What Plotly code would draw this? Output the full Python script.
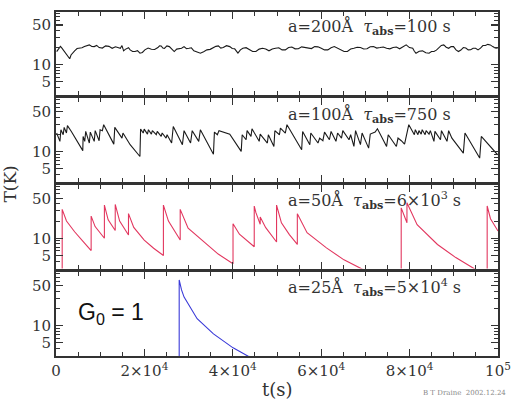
import plotly.graph_objects as go

# ---------------- data ----------------
# Panel 1: a=200 Å  (main readings + in-between readings of the fine jitter)
t1 = [148, 739, 1256, 1995, 2734, 3104, 3695, 4212, 5321, 6429, 7538, 8646, 9755,
      11233, 12711, 14189, 14928, 15298, 16036, 16775, 17884, 18992, 20101, 21579,
      23057, 23796, 24535, 25643, 26752, 27860, 28969, 30077, 31186, 32664, 34142,
      35620, 36728, 37837, 39315, 40423, 41162, 42271, 43749, 45227, 46711, 48189,
      49667, 51145, 52623, 54101, 55579, 57057, 58535, 60013, 61491, 62969, 64447,
      65925, 67403, 68881, 70359, 71837, 73315, 74793, 76271, 77749, 79227, 80705,
      81444, 82922, 84400, 85509, 86617, 87726, 88834, 89942, 91051, 92159, 93268,
      94376, 95485, 96593, 97702, 98810, 99919]
T1 = [17.0, 19.4, 20.0, 17.0, 13.9, 12.7, 15.9, 17.5, 19.4, 20.8, 22.3, 20.8, 20.0,
      21.4, 19.4, 20.0, 21.7, 17.5, 19.4, 18.2, 17.0, 15.9, 18.2, 18.7,
      20.0, 21.4, 19.4, 20.8, 17.0, 19.4, 20.8, 19.4, 17.5, 15.9, 18.2,
      20.0, 21.4, 20.0, 20.8, 19.0, 15.9, 19.4, 18.2, 17.0, 19.4, 17.5,
      19.4, 18.2, 20.0, 19.0, 20.6, 19.4, 20.8, 19.4, 18.2, 20.8, 18.2,
      17.0, 19.4, 20.0, 19.0, 20.8, 20.0, 19.4, 20.0, 19.0, 22.3, 19.4,
      15.9, 17.5, 15.9, 17.0, 20.0, 22.3, 19.4, 20.8, 17.0, 20.0, 18.2,
      19.4, 18.2, 21.7, 22.8, 20.8, 19.4]
t1_mid = [444, 998, 1626, 2365, 2919, 3400, 3954, 4767, 5875, 6984, 8092, 9200, 10494,
          11972, 13450, 14559, 15113, 15667, 16405, 17330, 18438, 19547, 20840, 22318,
          23427, 24166, 25089, 26198, 27306, 28415, 29523, 30632, 31925, 33403, 34881,
          36174, 37283, 38576, 39869, 40793, 41717, 43010, 44488, 45969, 47450, 48928,
          50406, 51884, 53362, 54840, 56318, 57796, 59274, 60752, 62230, 63708, 65186,
          66664, 68142, 69620, 71098, 72576, 74054, 75532, 77010, 78488, 79966, 81075,
          82183, 83661, 84955, 86063, 87172, 88280, 89388, 90497, 91605, 92714, 93822,
          94931, 96039, 97148, 98256, 99365]
T1_mid = [18.6, 21.0, 18.2, 15.0, 13.6, 14.8, 17.2, 19.2, 19.8, 21.9, 20.9, 21.8, 19.6,
          21.0, 20.6, 19.4, 19.8, 18.6, 19.9, 17.0, 17.6, 16.4, 19.6, 18.5,
          21.5, 19.6, 21.4, 18.6, 18.8, 19.4, 19.1, 19.8, 16.6, 16.9, 18.6,
          21.0, 19.6, 21.6, 19.3, 17.6, 18.2, 19.9, 17.0, 18.8, 18.9, 18.9,
          19.8, 18.2, 20.5, 19.1, 20.3, 19.2, 20.6, 18.2, 19.9, 19.3, 17.0,
          18.8, 20.3, 18.9, 20.7, 19.6, 20.5, 19.0, 20.4, 20.3, 20.0, 17.2,
          17.2, 16.2, 17.0, 18.0, 21.8, 20.3, 20.8, 18.2, 18.1, 19.6, 18.3,
          19.4, 19.5, 21.8, 22.3, 19.7]

# Panel 2: a=100 Å
t2 = [148, 887, 1108, 1626, 1848, 2365, 2587, 3473, 6060, 6134, 6503, 6725, 7538, 7760,
      8646, 8868, 9755, 9977, 10494, 10790, 13080, 13302, 14928, 15150, 16775, 18992,
      19140, 19731, 19953, 20692, 20914, 21580, 21800, 22687, 22909, 23796, 24018,
      24904, 25126, 26161, 26530, 27861, 28600, 28970, 30447, 30817, 32295, 32664,
      35620, 35842, 36507, 36877, 39315, 41901, 42123, 43010, 43232, 44118, 44340,
      45972, 46194, 47820, 48041, 49298, 49519, 50554, 50775, 51884, 52254, 55579,
      55801, 57427, 57648, 59274, 59644, 60383, 60752, 61861, 62230, 63339, 63708,
      64595, 64889, 66295, 66664, 67403, 67773, 68881, 69251, 70729, 71098, 72207,
      72724, 74793, 75163, 77010, 77380, 78119, 78857, 79818, 81074, 81296, 81887,
      82109, 82626, 82848, 83513, 83735, 84400, 84695, 85508, 85730, 86986, 87208,
      88464, 88834, 89573, 92159, 92529, 95854, 96224, 99919]
T2 = [21.1, 15.1, 24.1, 19.7, 26.5, 21.1, 28.4, 22.5, 10.4, 18.4, 15.1, 22.5, 14.1, 21.9,
      15.1, 23.2, 15.5, 24.1, 23.2, 29.5, 13.5, 26.5, 17.2, 21.1, 13.2, 8.2,
      24.7, 21.1, 24.7, 20.2, 24.1, 20.2, 23.2, 19.7, 22.5, 18.4, 21.1,
      17.2, 19.7, 14.1, 27.5, 17.2, 13.2, 23.2, 14.1, 23.2, 15.1, 24.1,
      9.0, 21.9, 19.7, 23.2, 20.2, 10.1, 19.7, 16.1, 23.2, 18.4, 25.1,
      15.1, 20.2, 14.1, 19.7, 12.3, 23.2, 19.7, 25.8, 21.1, 29.5, 10.8,
      22.5, 13.2, 21.1, 14.1, 17.2, 15.5, 21.9, 16.1, 22.5, 15.1, 21.1,
      17.2, 23.2, 16.1, 19.7, 12.3, 23.2, 13.2, 21.1, 11.5, 20.2, 21.9,
      25.1, 12.3, 19.7, 12.3, 17.2, 15.5, 13.5, 29.5, 19.7, 24.1, 19.7,
      23.2, 20.2, 24.1, 19.7, 23.2, 20.2, 23.2, 15.1, 22.5, 16.1, 23.2,
      15.1, 23.2, 17.2, 9.4, 21.1, 7.7, 18.4, 8.8]

# Panel 3: a=50 Å
t3 = [1400, 1400, 2370, 4210, 6060, 7950,
      7950, 8850, 10950,
      10950, 11800, 13400,
      13400, 14400, 16400,
      16400, 17590, 19960, 22090, 24300,
      24300, 25440, 28100,
      28100, 29890, 33480, 36700, 40050,
      40050, 41500, 44850,
      44850, 45230, 46200,
      46200, 47450, 49900,
      49900, 51000, 52800, 54600,
      54600, 56800, 61190, 65150, 69250, 78100,
      78100, 79400,
      79400, 81700, 86310, 90450, 94750, 97550,
      97550, 98300, 100000]
T3 = [1.5, 32, 20, 13, 8.9, 6.1,
      24.4, 16.0, 10.0,
      38, 21, 13.7,
      39, 20, 11.4,
      27, 15.5, 9.3, 6.7, 5.0,
      38, 20, 9.3,
      32, 15, 8.5, 5.3, 3.6,
      18, 11.8, 7.1,
      36.6, 28, 17.5,
      23.5, 15.3, 8.6,
      38, 18.6, 11.6, 7.8,
      26.8, 12.5, 6.8, 4.2, 2.9, 1.8,
      34, 18.7,
      41.8, 17.3, 7.8, 4.6, 2.9, 2.4,
      36.6, 22, 13.4]

# Panel 4: a=25 Å
t4 = [27870, 27870, 28400, 28980, 31930, 35630, 40060, 43390, 60000]
T4 = [1.5, 63, 42, 31.5, 13.2, 7.2, 4.1, 2.95, 1.2]

# merge panel-1 readings in time order
_p1 = sorted(zip(t1 + t1_mid, T1 + T1_mid))
t1_all = [p[0] for p in _p1]
T1_all = [p[1] for p in _p1]

series_t = [t1_all, t2, t3, t4]
series_T = [T1_all, T2, T3, T4]
colors = ["#1a1a1a", "#1a1a1a", "#e2375f", "#3a3ad8"]

labels = [
    "a=200Å&nbsp;&nbsp;<i>τ</i><sub><b>abs</b></sub>=100 s",
    "a=100Å&nbsp;&nbsp;<i>τ</i><sub><b>abs</b></sub>=750 s",
    "a=50Å&nbsp;&nbsp;<i>τ</i><sub><b>abs</b></sub>=6×10<sup>3</sup> s",
    "a=25Å&nbsp;&nbsp;<i>τ</i><sub><b>abs</b></sub>=5×10<sup>4</sup> s",
]

x_tickvals = [0, 20000, 40000, 60000, 80000, 100000]
x_ticktext = ["0", "2×10<sup>4</sup>", "4×10<sup>4</sup>", "6×10<sup>4</sup>",
              "8×10<sup>4</sup>", "10<sup>5</sup>"]
x_minor = [v for v in range(5000, 100000, 5000) if v % 20000 != 0]
y_tickvals = [5, 10, 50]
y_ticktext = ["5", "10", "50"]
y_minor = [3, 4, 6, 7, 8, 9, 20, 30, 40, 60, 70, 80]

# ---------------- figure ----------------
fig = go.Figure()
domains = [[0.760, 1.0], [0.506, 0.749], [0.254, 0.497], [0.0, 0.243]]
label_y = [0.957, 0.702, 0.451, 0.199]

serif = "DejaVu Serif"
axcol = "#333333"

for i in range(4):
    n = "" if i == 0 else str(i + 1)
    fig.add_trace(go.Scatter(
        x=series_t[i], y=series_T[i], mode="lines",
        line=dict(color=colors[i], width=1.1),
        xaxis="x" + n, yaxis="y" + n, showlegend=False, hoverinfo="skip"))
    fig.layout["xaxis" + n] = dict(
        domain=[0, 1], anchor="y" + n, range=[0, 100000],
        showline=True, linecolor=axcol, linewidth=2, mirror="ticks",
        ticks="inside", ticklen=7, tickwidth=1.2, tickcolor=axcol,
        tickvals=x_tickvals, ticktext=x_ticktext,
        showticklabels=(i == 3),
        tickfont=dict(family=serif, size=15, color="#333"),
        minor=dict(tickvals=x_minor, ticks="inside", ticklen=4, tickwidth=1,
                   tickcolor=axcol, showgrid=False),
        showgrid=False, zeroline=False)
    fig.layout["yaxis" + n] = dict(
        domain=domains[i], anchor="x" + n, type="log", range=[0.47, 1.93],
        showline=True, linecolor=axcol, linewidth=2, mirror="ticks",
        ticks="inside", ticklen=7, tickwidth=1.2, tickcolor=axcol,
        tickvals=y_tickvals, ticktext=y_ticktext,
        tickfont=dict(family=serif, size=15, color="#333"),
        minor=dict(tickvals=y_minor, ticks="inside", ticklen=4, tickwidth=1,
                   tickcolor=axcol, showgrid=False),
        showgrid=False, zeroline=False)
    fig.add_annotation(text=labels[i], xref="paper", yref="paper",
                       x=0.52, y=label_y[i], xanchor="left", yanchor="middle",
                       showarrow=False,
                       font=dict(family=serif, size=16, color="#333"))

fig.add_annotation(text="G<sub>0</sub> = 1", xref="paper", yref="paper",
                   x=0.124, y=0.125, xanchor="center", yanchor="middle",
                   showarrow=False,
                   font=dict(family="Liberation Sans", size=23, color="#111"))
fig.add_annotation(text="T(K)", xref="paper", yref="paper",
                   x=-0.105, y=0.50, xanchor="center", yanchor="middle",
                   textangle=-90, showarrow=False,
                   font=dict(family=serif, size=17, color="#333"))
fig.add_annotation(text="t(s)", xref="paper", yref="paper",
                   x=0.5, y=-0.097, xanchor="center", yanchor="middle",
                   showarrow=False,
                   font=dict(family=serif, size=18, color="#333"))
fig.add_annotation(text="B T Draine  2002.12.24", xref="paper", yref="paper",
                   x=1.022, y=-0.108, xanchor="right", yanchor="middle",
                   showarrow=False,
                   font=dict(family=serif, size=7, color="#888"))

fig.update_layout(
    width=521, height=401,
    margin=dict(l=56, r=14, t=10, b=45),
    paper_bgcolor="white", plot_bgcolor="white",
)

fig.write_html("out.html",
               config={"displayModeBar": False, "staticPlot": True},
               post_script="document.body.style.margin='0';document.body.style.padding='0';")
